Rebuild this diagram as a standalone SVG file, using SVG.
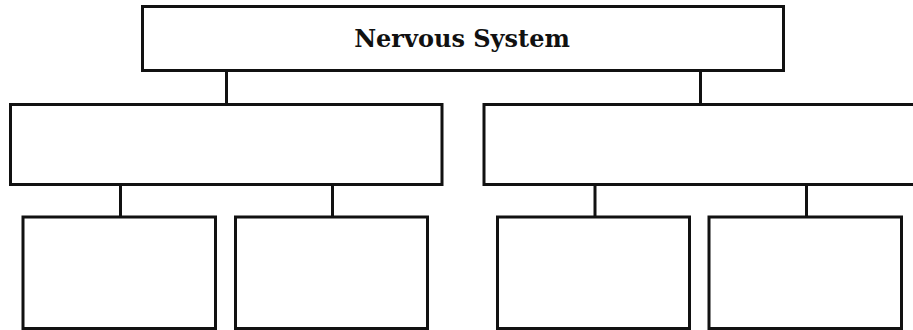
<svg xmlns="http://www.w3.org/2000/svg" width="913" height="330" viewBox="0 0 913 330">
  <style>
    .box { fill: #ffffff; stroke: #111111; stroke-width: 3; }
    .link { stroke: #111111; stroke-width: 3; fill: none; }
    .title { font-family: "DejaVu Serif", "Liberation Serif", serif; font-weight: bold; font-size: 24px; fill: #111111; }
  </style>
  <rect width="913" height="330" fill="#ffffff"/>
  <g id="connectors">
    <line class="link" x1="226.5" y1="70" x2="226.5" y2="105"/>
    <line class="link" x1="700.5" y1="70" x2="700.5" y2="105"/>
    <line class="link" x1="120.5" y1="184" x2="120.5" y2="217"/>
    <line class="link" x1="332.5" y1="184" x2="332.5" y2="217"/>
    <line class="link" x1="595" y1="184" x2="595" y2="217"/>
    <line class="link" x1="806.5" y1="184" x2="806.5" y2="217"/>
  </g>
  <g id="nervous-system">
    <rect class="box" x="142.5" y="6.5" width="641" height="64"/>
    <text class="title" x="462" y="46.5" text-anchor="middle">Nervous System</text>
  </g>
  <g id="branch-left">
    <rect class="box" x="10.5" y="104.5" width="431.5" height="80"/>
  </g>
  <g id="branch-right">
    <rect class="box" x="484" y="104.5" width="440" height="80"/>
  </g>
  <g id="leaf-1">
    <rect class="box" x="23" y="217" width="192.5" height="111.5"/>
  </g>
  <g id="leaf-2">
    <rect class="box" x="235.5" y="217" width="192" height="111.5"/>
  </g>
  <g id="leaf-3">
    <rect class="box" x="497.5" y="217" width="192" height="111.5"/>
  </g>
  <g id="leaf-4">
    <rect class="box" x="709" y="217" width="192.5" height="111.5"/>
  </g>
</svg>
